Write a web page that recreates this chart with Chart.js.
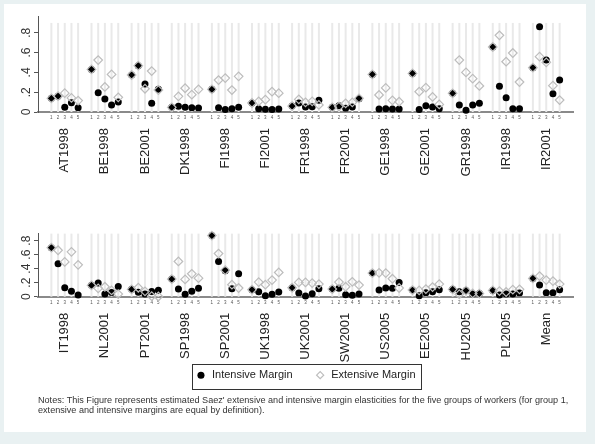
<!DOCTYPE html>
<html><head><meta charset="utf-8">
<script src="https://cdn.jsdelivr.net/npm/chart.js@4.4.1/dist/chart.umd.min.js"></script>
<style>
html,body{margin:0;padding:0;background:#e9f1f2;}
body{width:595px;height:444px;position:relative;overflow:hidden;font-family:"Liberation Sans",Arial,sans-serif;}
#panel{position:absolute;left:4px;top:4px;width:582px;height:428px;background:#fff;}
#w1{position:absolute;left:0;top:0;width:595px;height:185px;}
#w2{position:absolute;left:0;top:220px;width:595px;height:188px;}
#notes{position:absolute;left:38px;top:395px;font-size:9.1px;line-height:10.2px;color:#333;white-space:nowrap;}
</style></head><body>
<div id="panel"></div>
<div id="w1"><canvas id="c1"></canvas></div>
<div id="w2"><canvas id="c2"></canvas></div>
<div id="notes">Notes: This Figure represents estimated Saez' extensive and intensive margin elasticities for the five groups of workers (for group 1,<br>extensive and intensive margins are equal by definition).</div>
<script>
const groupsTop = ['AT1998','BE1998','BE2001','DK1998','FI1998','FI2001','FR1998','FR2001','GE1998','GE2001','GR1998','IR1998','IR2001'];
const groupsBottom = ['IT1998','NL2001','PT2001','SP1998','SP2001','UK1998','UK2001','SW2001','US2005','EE2005','HU2005','PL2005','Mean'];
const positions = ['1','2','3','4','5'];
const yTickValues = [0, 0.2, 0.4, 0.6, 0.8];
const yTickLabels = ['0', '.2', '.4', '.6', '.8'];

const intensiveTop = [
  [0.138, 0.160, 0.047, 0.094, 0.044],
  [0.430, 0.195, 0.131, 0.071, 0.101],
  [0.374, 0.468, 0.283, 0.088, 0.229],
  [0.047, 0.057, 0.047, 0.044, 0.040],
  [0.229, 0.044, 0.024, 0.034, 0.047],
  [0.091, 0.034, 0.027, 0.024, 0.030],
  [0.060, 0.091, 0.050, 0.054, 0.118],
  [0.047, 0.064, 0.037, 0.050, 0.135],
  [0.380, 0.030, 0.032, 0.030, 0.030],
  [0.390, 0.024, 0.064, 0.050, 0.034],
  [0.189, 0.071, 0.017, 0.071, 0.088],
  [0.657, 0.260, 0.145, 0.034, 0.034],
  [0.448, 0.862, 0.525, 0.185, 0.323]
];
const extensiveTop = [
  [0.138, 0.160, 0.190, 0.142, 0.115],
  [0.430, 0.525, 0.253, 0.380, 0.148],
  [0.374, 0.468, 0.235, 0.414, 0.222],
  [0.047, 0.158, 0.240, 0.175, 0.229],
  [0.229, 0.323, 0.343, 0.222, 0.360],
  [0.091, 0.108, 0.125, 0.205, 0.190],
  [0.060, 0.128, 0.098, 0.108, 0.071],
  [0.047, 0.054, 0.088, 0.098, 0.138],
  [0.380, 0.172, 0.243, 0.118, 0.104],
  [0.390, 0.205, 0.246, 0.152, 0.077],
  [0.189, 0.525, 0.400, 0.337, 0.263],
  [0.657, 0.775, 0.508, 0.596, 0.303],
  [0.448, 0.559, 0.502, 0.266, 0.121]
];
const intensiveBottom = [
  [0.700, 0.469, 0.128, 0.077, 0.024],
  [0.162, 0.197, 0.038, 0.060, 0.147],
  [0.105, 0.062, 0.040, 0.074, 0.092],
  [0.251, 0.109, 0.034, 0.077, 0.119],
  [0.872, 0.503, 0.369, 0.114, 0.327],
  [0.100, 0.071, 0.014, 0.034, 0.067],
  [0.128, 0.052, 0.010, 0.043, 0.114],
  [0.109, 0.119, 0.028, 0.020, 0.038],
  [0.337, 0.095, 0.124, 0.119, 0.204],
  [0.095, 0.014, 0.057, 0.071, 0.100],
  [0.105, 0.072, 0.088, 0.040, 0.045],
  [0.090, 0.024, 0.038, 0.038, 0.052],
  [0.261, 0.166, 0.057, 0.057, 0.100]
];
const extensiveBottom = [
  [0.700, 0.663, 0.497, 0.640, 0.455],
  [0.162, 0.119, 0.142, 0.090, 0.038],
  [0.105, 0.128, 0.077, 0.008, 0.003],
  [0.251, 0.503, 0.247, 0.327, 0.265],
  [0.872, 0.616, 0.379, 0.171, 0.124],
  [0.100, 0.209, 0.171, 0.237, 0.346],
  [0.128, 0.204, 0.204, 0.194, 0.180],
  [0.109, 0.209, 0.142, 0.213, 0.166],
  [0.337, 0.341, 0.337, 0.256, 0.124],
  [0.095, 0.090, 0.109, 0.138, 0.180],
  [0.105, 0.035, 0.088, 0.047, 0.045],
  [0.090, 0.081, 0.067, 0.100, 0.105],
  [0.261, 0.294, 0.237, 0.223, 0.180]
];

const SLOT = 6; // group width in x units (5 positions + gap)
const STEM_TOP = 0.9;
const LEGEND_SHIFT = 15;
const LEGEND_PAD = 22;

function toPoints(groups, vals) {
  const pts = [];
  groups.forEach((g, i) => vals[i].forEach((v, j) => pts.push({x: i * SLOT + j + 1, y: v})));
  return pts;
}

const stemPlugin = {
  id: 'stems',
  beforeDatasetsDraw(chart) {
    const xs = chart.scales.x, ys = chart.scales.y, ctx = chart.ctx;
    const y0 = ys.getPixelForValue(0), y1 = ys.getPixelForValue(STEM_TOP);
    ctx.save();
    ctx.strokeStyle = '#e9e9e9';
    ctx.lineWidth = 2;
    xs.ticks.forEach(t => {
      const px = xs.getPixelForValue(t.value);
      ctx.beginPath(); ctx.moveTo(px, y0); ctx.lineTo(px, y1); ctx.stroke();
    });
    ctx.restore();
  }
};

const legendBoxPlugin = {
  id: 'legendBox',
  afterLayout(chart) {
    const lg = chart.legend;
    if (lg && lg.options.display) { lg.top -= LEGEND_SHIFT; lg.bottom -= LEGEND_SHIFT; }
  },
  afterDraw(chart) {
    const lg = chart.legend;
    if (!lg || !lg.options.display || !lg.legendHitBoxes || !lg.legendHitBoxes.length) return;
    const hb = lg.legendHitBoxes;
    let total = 0;
    hb.forEach(h => { total += h.width; });
    total += LEGEND_PAD * (hb.length - 1);
    const cx = (lg.left + lg.right) / 2;
    const l = cx - total / 2 - 3, r = cx + total / 2 + 6;
    const itemTop = lg.top + LEGEND_PAD;
    const t = itemTop - 6, b = itemTop + hb[0].height + 8;
    const ctx = chart.ctx;
    ctx.save();
    ctx.strokeStyle = '#333'; ctx.lineWidth = 1;
    ctx.strokeRect(Math.round(l) + 0.5, Math.round(t) + 0.5, Math.round(r - l), Math.round(b - t));
    ctx.restore();
  }
};

function makeChart(id, groups, intensive, extensive, yMax, pad, x2h, showLegend) {
  const posTicks = [];
  groups.forEach((g, i) => positions.forEach((p, j) => posTicks.push({value: i * SLOT + j + 1})));
  const grpTicks = groups.map((g, i) => ({value: i * SLOT + 3}));
  return new Chart(document.getElementById(id), {
    type: 'scatter',
    data: {datasets: [
      {label: 'Intensive Margin', data: toPoints(groups, intensive), pointStyle: 'circle', pointRadius: 3.5,
       backgroundColor: '#000', borderColor: '#000', pointBorderWidth: 0, order: 1, clip: false},
      {label: 'Extensive Margin', data: toPoints(groups, extensive), pointStyle: 'rectRot', pointRadius: 4.3,
       backgroundColor: 'rgba(255,255,255,0)', borderColor: '#bdbdbd', pointBorderWidth: 1.2, order: 0, clip: false}
    ]},
    options: {
      responsive: true, maintainAspectRatio: false, animation: false, devicePixelRatio: 1,
      layout: {padding: pad},
      plugins: {
        tooltip: {enabled: false},
        legend: {display: showLegend, position: 'bottom', fullSize: false,
          labels: {usePointStyle: true, boxWidth: 11, boxHeight: 5, padding: LEGEND_PAD, color: '#222',
                   sort: (a, b) => a.datasetIndex - b.datasetIndex,
                   font: {family: '"Liberation Sans", Arial, sans-serif', size: 11}}}
      },
      scales: {
        x: {type: 'linear', min: -1, max: 79, position: 'bottom', weight: 0,
            grid: {display: false, drawTicks: false},
            border: {display: true, color: '#8a8a8a', width: 2},
            afterBuildTicks: a => { a.ticks = posTicks.map(t => ({value: t.value})); },
            afterFit: a => { a.height = 14; },
            ticks: {autoSkip: false, minRotation: 0, maxRotation: 0, padding: 3, color: '#555',
                    font: {family: '"Liberation Sans", Arial, sans-serif', size: 4.5},
                    callback: v => positions[(v % SLOT) - 1]}},
        x2: {type: 'linear', min: -1, max: 79, position: 'bottom', weight: 1,
            grid: {display: false, drawTicks: false}, border: {display: false},
            afterBuildTicks: a => { a.ticks = grpTicks.map(t => ({value: t.value})); },
            afterFit: a => { a.height = x2h; },
            ticks: {autoSkip: false, minRotation: 90, maxRotation: 90, padding: 2, color: '#222',
                    font: {family: '"Liberation Sans", Arial, sans-serif', size: 13},
                    callback: v => groups[Math.round((v - 3) / SLOT)]}},
        y: {type: 'linear', min: 0, max: yMax, position: 'left',
            grid: {drawOnChartArea: false, tickLength: 4, color: '#555', tickWidth: 1},
            border: {color: '#555', width: 1},
            afterBuildTicks: a => { a.ticks = yTickValues.map(v => ({value: v})); },
            afterFit: a => { a.width = 34; },
            ticks: {minRotation: 90, maxRotation: 90, crossAlign: 'center', padding: 2, color: '#333',
                    font: {family: '"Liberation Sans", Arial, sans-serif', size: 12},
                    callback: (v, i) => yTickLabels[i]}}
      }
    },
    plugins: [stemPlugin, legendBoxPlugin]
  });
}

makeChart('c1', groupsTop, intensiveTop, extensiveTop, 0.97, {left: 4, right: 22, top: 16, bottom: 4}, 55, false);
// bottom canvas: 188 high; chart area 13.3 .. 76.7 (63.4), x 14, x2 52, legend 43, pad 2.3
makeChart('c2', groupsBottom, intensiveBottom, extensiveBottom, 0.905, {left: 4, right: 22, top: 13.3, bottom: 2.3}, 52, true);
</script>
</body></html>
